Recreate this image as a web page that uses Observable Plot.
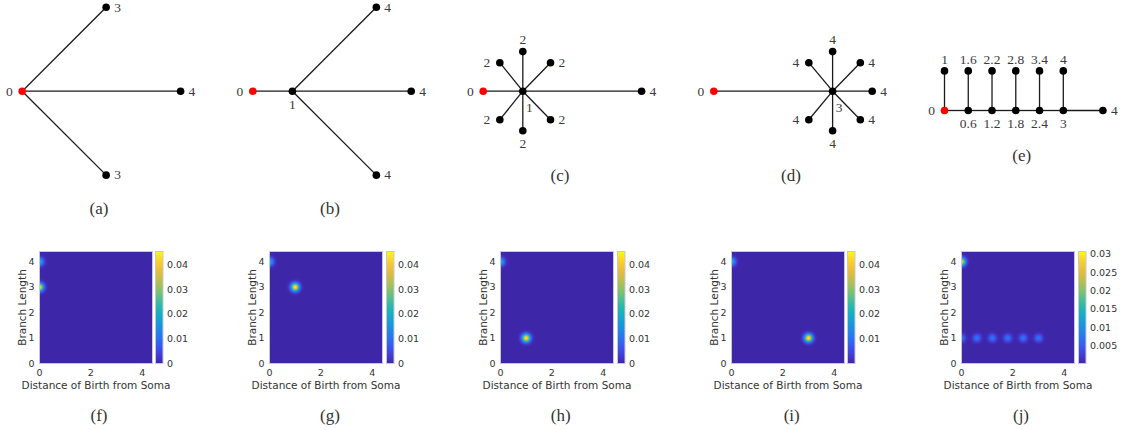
<!DOCTYPE html>
<html><head><meta charset="utf-8">
<script src="https://cdn.jsdelivr.net/npm/d3@7"></script>
<script src="https://cdn.jsdelivr.net/npm/@observablehq/plot@0.6"></script>
<style>
body{margin:0;background:#fff;}
#fig{position:relative;width:1121px;height:430px;overflow:hidden;background:#fff;}
.pan{position:absolute;}
.pan svg{max-width:none !important;}
.cap{position:absolute;font-family:"Liberation Serif",serif;font-size:17px;color:#333;transform:translate(-50%,-50%);white-space:nowrap;line-height:1;}
</style></head><body><div id="fig"></div>
<script>
// ---------- DATA: trees (node coordinates in branch-length units) ----------
const treeANodes = [
  {id:0,x:0,y:0,label:"0"},{id:1,x:2.12,y:2.12,label:"3"},{id:2,x:4,y:0,label:"4"},{id:3,x:2.12,y:-2.12,label:"3"}];
const treeAEdges = [[0,1],[0,2],[0,3]];

const treeBNodes = [
  {id:0,x:0,y:0,label:"0"},{id:1,x:1,y:0,label:"1"},{id:2,x:3.12,y:2.12,label:"4"},
  {id:3,x:4,y:0,label:"4"},{id:4,x:3.12,y:-2.12,label:"4"}];
const treeBEdges = [[0,1],[1,2],[1,3],[1,4]];

const treeCNodes = [
  {id:0,x:0,y:0,label:"0"},{id:1,x:1,y:0,label:"1"},{id:2,x:4,y:0,label:"4"},
  {id:3,x:1,y:1,label:"2"},{id:4,x:0.42,y:0.72,label:"2"},{id:5,x:1.7,y:0.72,label:"2"},
  {id:6,x:0.42,y:-0.72,label:"2"},{id:7,x:1.7,y:-0.72,label:"2"},{id:8,x:1,y:-1,label:"2"}];
const treeCEdges = [[0,1],[1,2],[1,3],[1,4],[1,5],[1,6],[1,7],[1,8]];

const treeDNodes = [
  {id:0,x:0,y:0,label:"0"},{id:1,x:3,y:0,label:"3"},{id:2,x:4,y:0,label:"4"},
  {id:3,x:3,y:1,label:"4"},{id:4,x:2.4,y:0.72,label:"4"},{id:5,x:3.7,y:0.72,label:"4"},
  {id:6,x:2.4,y:-0.72,label:"4"},{id:7,x:3.7,y:-0.72,label:"4"},{id:8,x:3,y:-1,label:"4"}];
const treeDEdges = [[0,1],[1,2],[1,3],[1,4],[1,5],[1,6],[1,7],[1,8]];

const treeENodes = [
  {id:0,x:0,y:0,label:"0"},{id:1,x:0.6,y:0,label:"0.6"},{id:2,x:1.2,y:0,label:"1.2"},
  {id:3,x:1.8,y:0,label:"1.8"},{id:4,x:2.4,y:0,label:"2.4"},{id:5,x:3,y:0,label:"3"},
  {id:6,x:4,y:0,label:"4"},{id:7,x:0,y:1,label:"1"},{id:8,x:0.6,y:1,label:"1.6"},
  {id:9,x:1.2,y:1,label:"2.2"},{id:10,x:1.8,y:1,label:"2.8"},{id:11,x:2.4,y:1,label:"3.4"},
  {id:12,x:3,y:1,label:"4"}];
const treeEEdges = [[0,1],[1,2],[2,3],[3,4],[4,5],[5,6],[0,7],[1,8],[2,9],[3,10],[4,11],[5,12]];

// ---------- DATA: heat-map kernels (birth, branch length, peak density) ----------
const fPoints = [{birth:0,length:4,peak:0.021},{birth:0,length:3,peak:0.043}];
const gPoints = [{birth:0,length:4,peak:0.021},{birth:1,length:3,peak:0.045}];
const hPoints = [{birth:0,length:4,peak:0.021},{birth:1,length:1,peak:0.045}];
const iPoints = [{birth:0,length:4,peak:0.021},{birth:3,length:1,peak:0.045}];
const jPoints = [{birth:0,length:4,peak:0.028},{birth:0,length:1,peak:0.0075},{birth:0.6,length:1,peak:0.0075},
  {birth:1.2,length:1,peak:0.0075},{birth:1.8,length:1,peak:0.0075},{birth:2.4,length:1,peak:0.0075},{birth:3,length:1,peak:0.0075}];

const cbDomainFGH = [0, 0.0455];
const cbTicksFGH = [0, 0.01, 0.02, 0.03, 0.04];
const cbDomainI = [0.0001, 0.0454];
const cbTicksI = [0.01, 0.02, 0.03, 0.04];
const cbDomainJ = [0.0002, 0.0308];
const cbTicksJ = [0.005, 0.01, 0.015, 0.02, 0.025, 0.03];

const xTicks = [0, 2, 4];
const yTicks = [0, 1, 2, 3, 4];
const xLabel = "Distance of Birth from Soma";
const yLabel = "Branch Length";
const captions = ["(a)","(b)","(c)","(d)","(e)","(f)","(g)","(h)","(i)","(j)"];

// parula colormap stops
const parula = ["#3e26a8","#4743e6","#2f6bf6","#1f8ae6","#12a6d2","#1eb8b2","#5fc086","#a6c15a","#dfba40","#fdc732","#f9fb15"];

// ---------- LAYOUT ----------
const fig = document.getElementById("fig");
const K = 39.6; // px per unit in tree panels
const SIGMA = 0.11;

function place(node, left, top) {
  const d = document.createElement("div");
  d.className = "pan"; d.style.left = left + "px"; d.style.top = top + "px";
  d.appendChild(node); fig.appendChild(d);
}
function caption(text, cx, cy) {
  const d = document.createElement("div");
  d.className = "cap"; d.textContent = text;
  d.style.left = cx + "px"; d.style.top = cy + "px";
  fig.appendChild(d);
}

function labelSide(n, nodes, edges) {
  if (n.id === 0) return "left";
  const byId = new Map(nodes.map(d => [d.id, d]));
  const pe = edges.find(e => e[1] === n.id);
  const p = byId.get(pe[0]);
  const kids = edges.filter(e => e[0] === n.id).map(e => byId.get(e[1]));
  if (kids.length) {
    return kids.some(k => Math.abs(k.x - n.x) < 0.05 && k.y < n.y) ? "belowright" : "below";
  }
  const vx = n.x - p.x, vy = n.y - p.y;
  if (Math.abs(vx) > 0.05) return vx > 0 ? "right" : "left";
  return vy > 0 ? "above" : "below";
}

function drawTree(nodes, edges, lay) {
  const W = lay.width, H = 220;
  const byId = new Map(nodes.map(d => [d.id, d]));
  const links = edges.map(([a, b]) => ({x1: byId.get(a).x, y1: byId.get(a).y, x2: byId.get(b).x, y2: byId.get(b).y}));
  const lab = nodes.map(n => ({...n, side: labelSide(n, nodes, edges)}));
  const tstyle = {x: "x", y: "y", text: "label", fill: "#3a3a3a", fontSize: 13.5, fontFamily: "Liberation Serif"};
  const chart = Plot.plot({
    width: W, height: H, margin: 0,
    x: {domain: [(lay.left - lay.rootX) / K, (lay.left + W - lay.rootX) / K], axis: null},
    y: {domain: [-(H - lay.rootY) / K, lay.rootY / K], axis: null},
    style: {background: "transparent", overflow: "visible", maxWidth: "none"},
    marks: [
      Plot.link(links, {x1: "x1", y1: "y1", x2: "x2", y2: "y2", stroke: "#1a1a1a", strokeWidth: 1.3}),
      Plot.dot(nodes.filter(d => d.id !== 0), {x: "x", y: "y", r: 3.8, fill: "black"}),
      Plot.dot(nodes.filter(d => d.id === 0), {x: "x", y: "y", r: 3.8, fill: "#ff0000"}),
      Plot.text(lab.filter(d => d.side === "left"), {...tstyle, textAnchor: "end", dx: -9.5}),
      Plot.text(lab.filter(d => d.side === "right"), {...tstyle, textAnchor: "start", dx: 8}),
      Plot.text(lab.filter(d => d.side === "above"), {...tstyle, dy: -11.5}),
      Plot.text(lab.filter(d => d.side === "below"), {...tstyle, dy: 13}),
      Plot.text(lab.filter(d => d.side === "belowright"), {...tstyle, dx: 6.5, dy: 16.5})
    ]
  });
  place(chart, lay.left, 0);
}

function density(pts, x, y) {
  let s = 0;
  for (const p of pts) {
    const dx = x - p.birth, dy = y - p.length;
    s += p.peak * Math.exp(-(dx * dx + dy * dy) / (2 * SIGMA * SIGMA));
  }
  return s;
}

function drawHeat(pts, plotLeft, cbLeft, cbDomain, cbTicks) {
  const colorOpt = {type: "linear", domain: cbDomain, interpolate: d3.interpolateRgbBasis(parula), clamp: true};
  const heat = Plot.plot({
    width: 170, height: 162, marginLeft: 40, marginRight: 17, marginTop: 10, marginBottom: 40,
    x: {domain: [0, 4.4]}, y: {domain: [0, 4.4]},
    color: colorOpt,
    style: {background: "transparent", overflow: "visible", maxWidth: "none", fontFamily: "DejaVu Sans", fontSize: "9.5px", color: "#333"},
    marks: [
      Plot.raster({x1: 0, x2: 4.4, y1: 0, y2: 4.4, fill: (x, y) => density(pts, x, y), pixelSize: 1}),
      Plot.frame({stroke: "#c8c8d4", strokeWidth: 1}),
      Plot.axisX({ticks: xTicks, tickSize: 0, tickPadding: 6, tickFormat: d => String(d), label: null}),
      Plot.axisY({ticks: yTicks, tickSize: 0, tickPadding: 5, tickFormat: d => String(d), label: null}),
      Plot.text([xLabel], {frameAnchor: "bottom", textAnchor: "middle", lineAnchor: "middle", dy: 22, fontSize: 10.5, fill: "#333"}),
      Plot.text([yLabel], {frameAnchor: "left", textAnchor: "middle", lineAnchor: "middle", rotate: -90, dx: -16.5, fontSize: 10.5, fill: "#333"})
    ]
  });
  place(heat, plotLeft - 40, 241);
  const cb = Plot.plot({
    width: 60, height: 162, marginLeft: 0, marginRight: 52.5, marginTop: 10, marginBottom: 40,
    x: {domain: [0, 1], axis: null}, y: {domain: cbDomain, axis: null},
    color: colorOpt,
    style: {background: "transparent", overflow: "visible", maxWidth: "none", fontFamily: "DejaVu Sans", fontSize: "9.5px", color: "#333"},
    marks: [
      Plot.raster({x1: 0, x2: 1, y1: cbDomain[0], y2: cbDomain[1], fill: (x, y) => y, pixelSize: 1}),
      Plot.frame({stroke: "#c8c8d4", strokeWidth: 1}),
      Plot.axisY({anchor: "right", ticks: cbTicks, tickSize: 0, tickPadding: 4, tickFormat: d => String(d), label: null})
    ]
  });
  place(cb, cbLeft, 241);
}

// top row: trees
drawTree(treeANodes, treeAEdges, {left: 0, width: 230, rootX: 21.7, rootY: 90.7});
drawTree(treeBNodes, treeBEdges, {left: 230, width: 230, rootX: 252.3, rootY: 90.7});
drawTree(treeCNodes, treeCEdges, {left: 460, width: 230, rootX: 482.7, rootY: 90.7});
drawTree(treeDNodes, treeDEdges, {left: 690, width: 210, rootX: 713.3, rootY: 90.7});
drawTree(treeENodes, treeEEdges, {left: 900, width: 221, rootX: 944, rootY: 110});

// bottom row: heat maps
drawHeat(fPoints, 39, 155.3, cbDomainFGH, cbTicksFGH);
drawHeat(gPoints, 269.3, 386, cbDomainFGH, cbTicksFGH);
drawHeat(hPoints, 500, 616.7, cbDomainFGH, cbTicksFGH);
drawHeat(iPoints, 731, 846.7, cbDomainI, cbTicksI);
drawHeat(jPoints, 961, 1077.7, cbDomainJ, cbTicksJ);

// captions
const capPos = [[99,208.3],[330,208.3],[560,175],[791,175],[1021.7,155],[99,415],[330,415],[560.7,415],[791.7,415],[1021,415]];
captions.forEach((c, k) => caption(c, capPos[k][0], capPos[k][1]));
</script></body></html>
